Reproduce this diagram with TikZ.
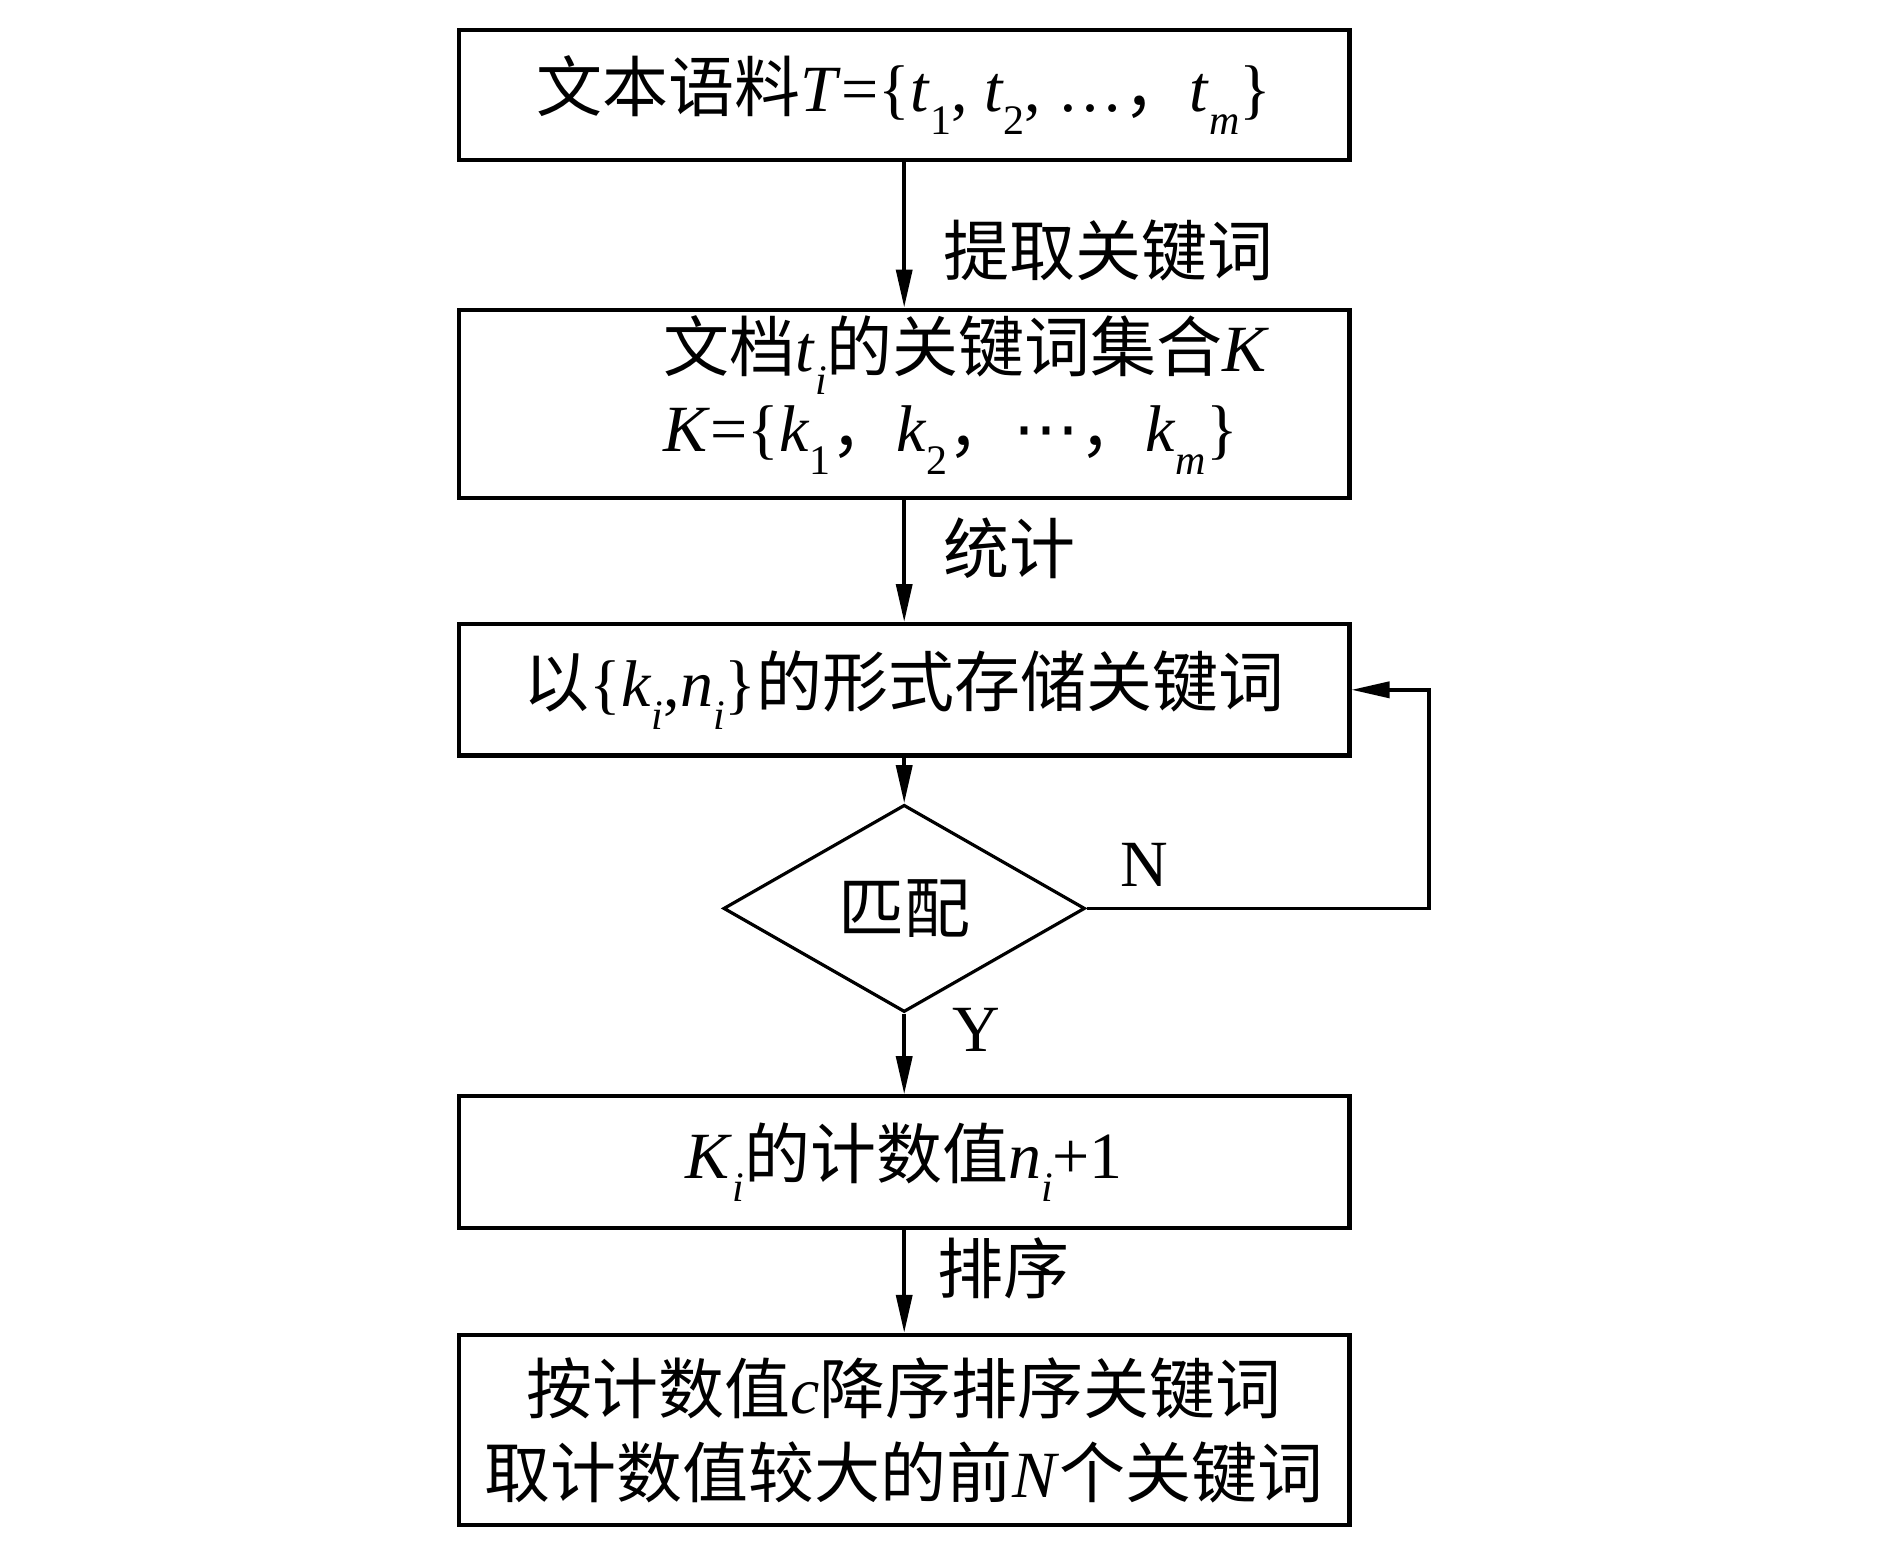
\documentclass[tikz,border=0pt]{standalone}
\usepackage{fontspec}
\setmainfont{Liberation Serif}
\newfontfamily\cjk{Noto Sans CJK SC}
\newfontfamily\djv{DejaVu Sans}
\usetikzlibrary{shapes.geometric,arrows.meta}
\newcommand\lowsub[1]{\raisebox{-0.75ex}{\fontsize{21}{21}\selectfont #1}}
\tikzset{
  box/.style={draw, line width=2.1pt, minimum width=445.2pt, inner sep=0pt, font=\fontsize{33}{42}\selectfont},
  decision/.style={draw, diamond, line width=1.6pt, minimum width=180.8pt, minimum height=103.6pt, inner sep=0pt, aspect=1.74, font=\fontsize{33}{42}\selectfont},
  arr/.style={line width=1.8pt, -{Triangle[length=19pt,width=8pt]}},
  lbl/.style={inner sep=0pt, font=\fontsize{33}{42}\selectfont},
}
\begin{document}
\begin{tikzpicture}[x=0.5pt,y=-0.5pt]
\useasboundingbox (0,0) rectangle (1890,1559);
\node[box, minimum height=65.1pt] (b1) at (904.2,95.2) {{\cjk 文本语料}\textit{T}=\{\textit{t}\lowsub{1}, \textit{t}\lowsub{2}, …{\cjk ，}\textit{t}\lowsub{\textit{m}}\}};
\node[box, minimum height=94pt] (b2) at (904.2,403.6) {};
\node[lbl, anchor=west] (b2t1) at (663,355.4) {{\cjk 文档}\textit{t}\lowsub{\textit{i}}{\cjk 的关键词集合}\textit{K}};
\node[lbl, anchor=west] (b2t2) at (663,439.8) {\textit{K}=\{\textit{k}\lowsub{1}{\cjk ，}\textit{k}\lowsub{2}{\cjk ，}{\djv ⋯}{\cjk ，}\textit{k}\lowsub{\textit{m}}\}};
\node[box, minimum height=65.7pt] (b3) at (904.2,689.8) {{\cjk 以}\{\textit{k}\lowsub{\textit{i}},\textit{n}\lowsub{\textit{i}}\}{\cjk 的形式存储关键词}};
\node[decision] (d) at (904.2,908.4) {\cjk 匹配};
\node[box, minimum height=65.7pt] (b5) at (904.2,1162.0) {\textit{K}\lowsub{\textit{i}}{\cjk 的计数值}\textit{n}\lowsub{\textit{i}}+1};
\node[box, minimum height=95.2pt, align=center] (b6) at (904.2,1430.1) {{\cjk 按计数值}\textit{c}{\cjk 降序排序关键词}\\{\cjk 取计数值较大的前}\textit{N}{\cjk 个关键词}};
\coordinate (loop) at (1428.9,908.4);
\draw[arr] (b1) -- (b2);
\draw[arr] (b2) -- (b3);
\draw[arr] (b3) -- (d);
\draw[arr] (d) -- (b5);
\draw[arr] (b5) -- (b6);
\draw[arr] (d.east) -- (loop) |- (b3.east);
\node[lbl, anchor=west] (l1) at (943.4,250.6) {\cjk 提取关键词};
\node[lbl, anchor=west] (l2) at (943.4,548.2) {\cjk 统计};
\node[lbl, anchor=west] (l3) at (937.3,1268.7) {\cjk 排序};
\node[lbl] (ln) at (1144.6,865.1) {N};
\node[lbl] (ly) at (975.9,1030.1) {Y};
\end{tikzpicture}
\end{document}
